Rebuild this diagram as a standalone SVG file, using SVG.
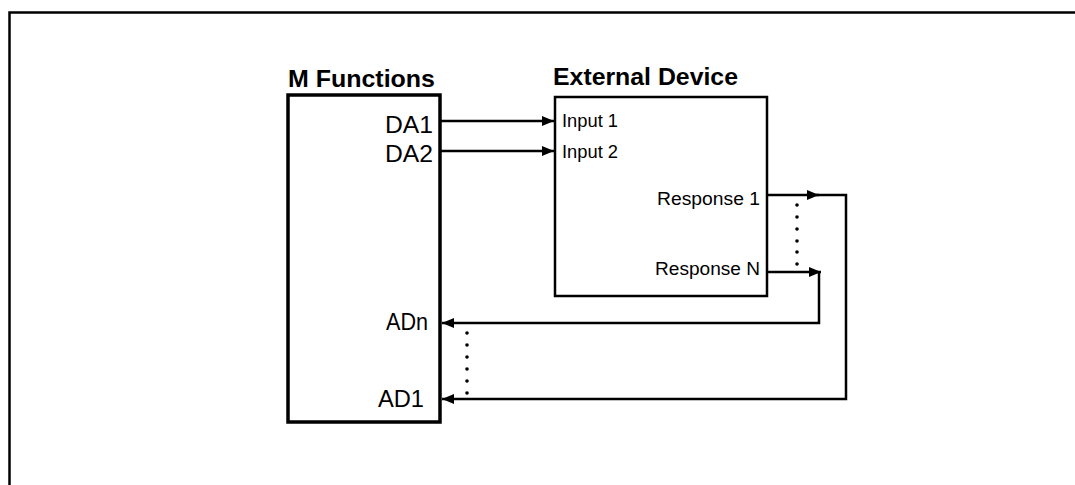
<svg xmlns="http://www.w3.org/2000/svg" width="1075" height="485" viewBox="0 0 1075 485">
<style>
.box{fill:#fff;stroke:#000}
.t{font-family:"Liberation Sans",Arial,sans-serif;fill:#000}
.title{font-size:24px;font-weight:bold}
.lbl{font-size:23px}
.sm{font-size:18px}
.c{fill:none;stroke:#000;stroke-width:2.5}
.dot{fill:#000}
</style>
<defs>
<marker id="ah" markerWidth="12" markerHeight="10" refX="12" refY="5" orient="auto" markerUnits="userSpaceOnUse">
<path d="M0,0 L12,5 L0,10 z" fill="#000"/>
</marker>
</defs>
<path d="M9.5,485 V12.5 H1075" fill="none" stroke="#000" stroke-width="2.5"/>
<g id="m-functions">
<rect class="box" x="288" y="95" width="152" height="327" stroke-width="3.5"/>
<text class="t title" x="288" y="87" textLength="147" lengthAdjust="spacingAndGlyphs">M Functions</text>
<text class="t lbl" x="433" y="133" text-anchor="end" textLength="48" lengthAdjust="spacingAndGlyphs">DA1</text>
<text class="t lbl" x="433" y="162" text-anchor="end" textLength="48" lengthAdjust="spacingAndGlyphs">DA2</text>
<text class="t lbl" x="428" y="330" text-anchor="end" textLength="42" lengthAdjust="spacingAndGlyphs">ADn</text>
<text class="t lbl" x="424" y="407" text-anchor="end" textLength="46" lengthAdjust="spacingAndGlyphs">AD1</text>
</g>
<g id="external-device">
<rect class="box" x="555" y="97" width="212" height="199" stroke-width="2.5"/>
<text class="t title" x="553" y="85" textLength="185" lengthAdjust="spacingAndGlyphs">External Device</text>
<text class="t sm" x="562" y="127" textLength="56" lengthAdjust="spacingAndGlyphs">Input 1</text>
<text class="t sm" x="562" y="158" textLength="56" lengthAdjust="spacingAndGlyphs">Input 2</text>
<text class="t sm" x="760" y="205" text-anchor="end" textLength="103" lengthAdjust="spacingAndGlyphs">Response 1</text>
<text class="t sm" x="760" y="275" text-anchor="end" textLength="105" lengthAdjust="spacingAndGlyphs">Response N</text>
</g>
<g id="connectors">
<path class="c" d="M441,121 H554" marker-end="url(#ah)"/>
<path class="c" d="M441,151 H554" marker-end="url(#ah)"/>
<path class="c" d="M768,195 H819" marker-end="url(#ah)"/>
<path class="c" d="M816,195 H846 V399 H442" marker-end="url(#ah)"/>
<path class="c" d="M768,272 H821" marker-end="url(#ah)"/>
<path class="c" d="M819,272 V323 H442" marker-end="url(#ah)"/>
<g class="dot">
<circle cx="797" cy="205" r="1.8"/><circle cx="797" cy="217" r="1.8"/><circle cx="797" cy="229" r="1.8"/><circle cx="797" cy="241" r="1.8"/><circle cx="797" cy="252" r="1.8"/><circle cx="797" cy="264" r="1.8"/>
<circle cx="467" cy="333" r="1.8"/><circle cx="467" cy="345" r="1.8"/><circle cx="467" cy="357" r="1.8"/><circle cx="467" cy="369" r="1.8"/><circle cx="467" cy="381" r="1.8"/><circle cx="467" cy="393" r="1.8"/>
</g>
</g>
</svg>
